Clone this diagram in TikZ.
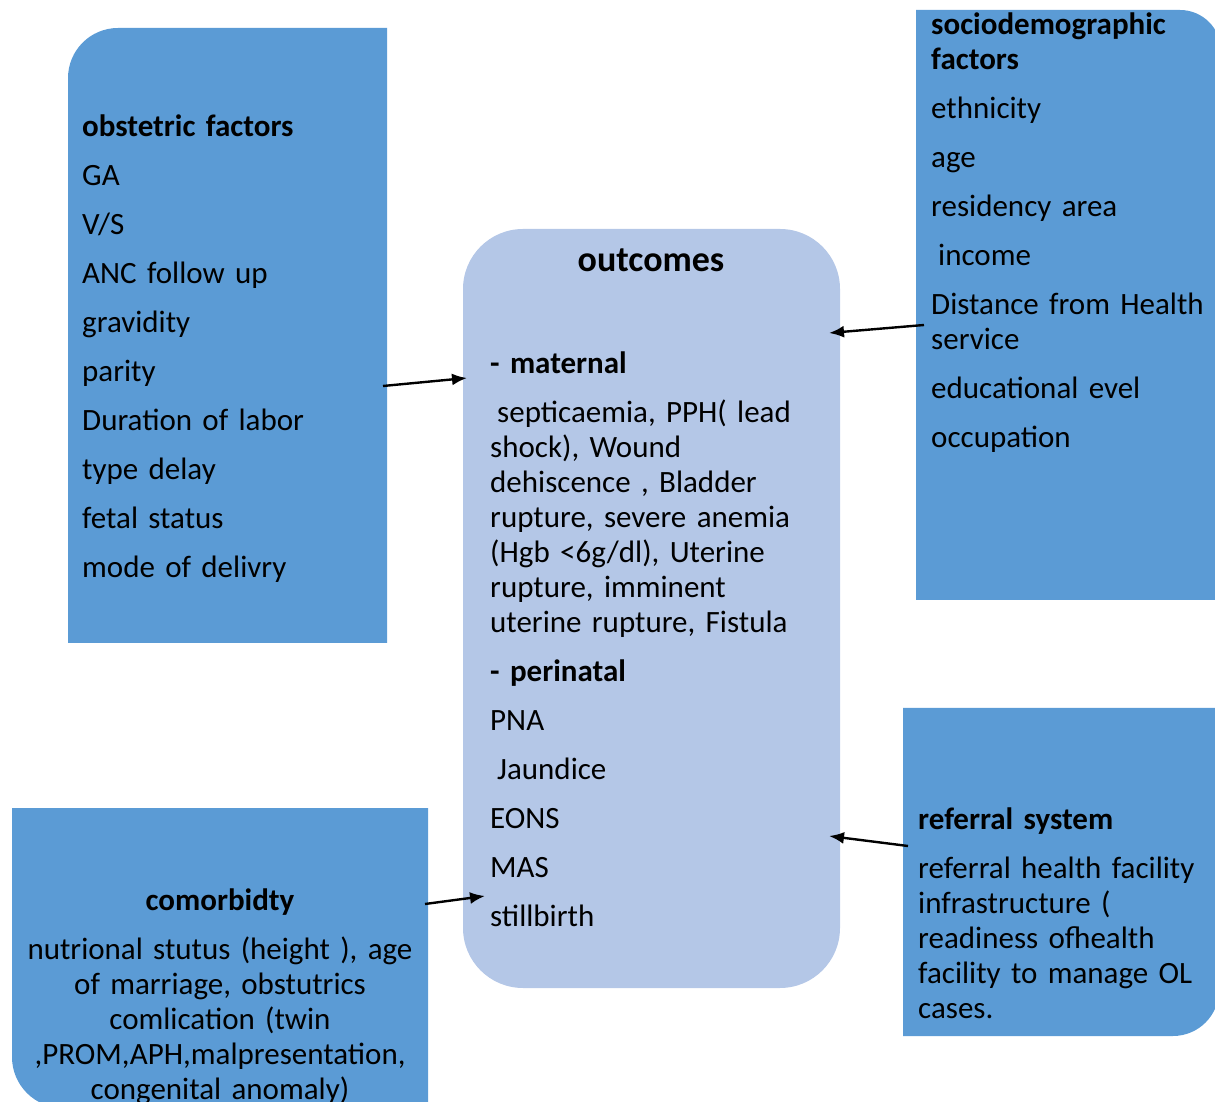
\documentclass[tikz,border=0pt]{standalone}
\usepackage{fontspec}
\setmainfont{Carlito}
\usetikzlibrary{arrows.meta}
\definecolor{boxblue}{HTML}{5B9BD5}
\definecolor{outblue}{HTML}{B4C7E7}
\tikzset{
  darkbox/.style={fill=boxblue},
  lightbox/.style={fill=outblue},
  body/.style={font=\fontsize{31}{35}\selectfont, inner sep=0pt, align=left, text width=#1, anchor=base west},
  body/.default=320pt,
  conn/.style={-{Latex[length=15pt,width=12pt]}, line width=2.4pt}
}
\begin{document}
\begin{tikzpicture}[x=1pt,y=1pt]
    \useasboundingbox (0,0) rectangle (1215,1101);
    \clip (0,0) rectangle (1215,1101);
    % boxes
    \fill[darkbox] (68,458) -- (68,1023) arc[start angle=180,end angle=90,radius=50pt]
      -- (387,1073) -- (387,458) -- cycle;
    \fill[darkbox] (916,501) -- (916,1091) -- (1180,1091)
      arc[start angle=90,end angle=0,radius=41pt] -- (1221,501) -- cycle;
    \fill[lightbox,rounded corners=60pt] (463,113) rectangle (840,872);
    \fill[darkbox] (903,393) -- (1219,393) -- (1219,111)
      arc[start angle=0,end angle=-90,radius=46pt] -- (903,65) -- cycle;
    \fill[darkbox] (428,293) -- (12,293) -- (12,44)
      arc[start angle=180,end angle=270,radius=51pt] -- (428,-7) -- cycle;
    % texts
    \node[body=300pt] (obst) at (82,964) {\textbf{obstetric factors}\\[14pt]
      GA\\[14pt] V/S\\[14pt] ANC follow up\\[14pt] gravidity\\[14pt] parity\\[14pt]
      Duration of labor\\[14pt] type delay\\[14pt] fetal status\\[14pt] mode of delivry};
    \node[body=300pt] (socio) at (931,1066) {\textbf{sociodemographic}\\ \textbf{factors}\\[14pt]
      ethnicity\\[14pt] age\\[14pt] residency area\\[14pt] \hspace*{7pt}income\\[14pt]
      Distance from Health\\ service\\[14pt] educational evel\\[14pt] occupation};
    \node[font=\fontsize{36}{40}\selectfont\bfseries, inner sep=0pt, anchor=base] (outt) at (651,829) {outcomes};
    \node[body=330pt] (outc) at (490,727) {\textbf{- maternal}\\[14pt]
      \hspace*{7pt}septicaemia, PPH( lead\\ shock), Wound\\ dehiscence , Bladder\\
      rupture, severe anemia\\ (Hgb <6g/dl), Uterine\\ rupture, imminent\\
      uterine rupture, Fistula\\[14pt] \textbf{- perinatal}\\[14pt]
      PNA\\[14pt] \hspace*{7pt}Jaundice\\[14pt] EONS\\[14pt] MAS\\[14pt] stillbirth};
    \node[body=300pt] (refr) at (918,272) {\textbf{referral system}\\[14pt]
      referral health facility\\ infrastructure (\\ readiness ofhealth\\
      facility to manage OL\\ cases.};
    \node[body=420pt, align=center, anchor=base] (comor) at (220,191) {\textbf{comorbidty}\\[14pt]
      nutrional stutus (height ), age\\ of marriage, obstutrics\\ comlication (twin\\
      ,PROM,APH,malpresentation,\\ congenital anomaly)};
    % arrows
    \coordinate (obst-e) at (383,715);
    \coordinate (outc-w1) at (467,723);
    \coordinate (socio-w) at (924,776);
    \coordinate (outc-e1) at (829,768);
    \coordinate (refr-w) at (908,255);
    \coordinate (outc-e2) at (829,265);
    \coordinate (comor-e) at (425,197);
    \coordinate (outc-w2) at (485,205);
    \draw[conn] (obst-e) -- (outc-w1);
    \draw[conn] (socio-w) -- (outc-e1);
    \draw[conn] (refr-w) -- (outc-e2);
    \draw[conn] (comor-e) -- (outc-w2);
\end{tikzpicture}
\end{document}
